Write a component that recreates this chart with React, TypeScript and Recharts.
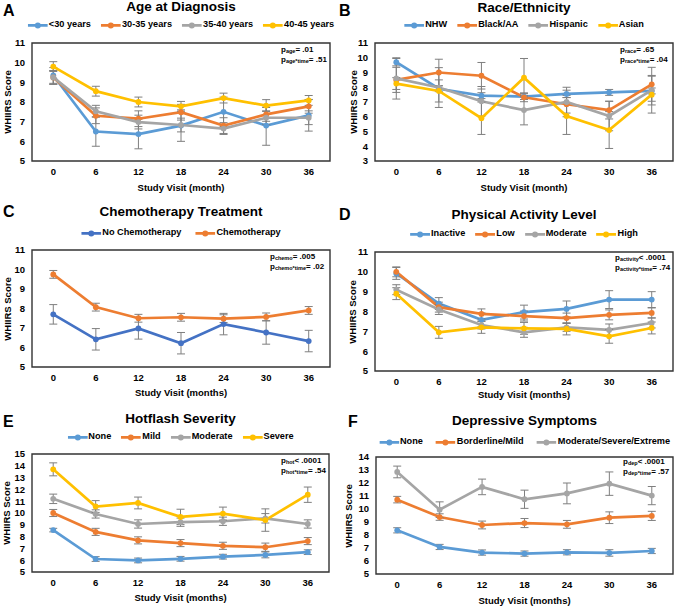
import { LineChart, Line, XAxis, YAxis, ErrorBar, ReferenceArea } from "recharts";

const FONT = "'Liberation Sans', Arial, sans-serif";

const BLUE = "#5B9BD5";
const DARK_BLUE = "#4472C4";
const ORANGE = "#ED7D31";
const GRAY = "#A5A5A5";
const YELLOW = "#FFC000";

const months = [0, 6, 12, 18, 24, 30, 36];

// A - age at diagnosis
const ageLt30 = [9.35, 6.5, 6.37, 6.8, 7.5, 6.8, 7.32];
const ageLt30Err = [0.4, 0.75, 0.75, 0.8, 0.75, 1.0, 0.8];
const age30to35 = [9.25, 7.3, 7.15, 7.48, 6.8, 7.37, 7.78];
const age30to35Err = [0.35, 0.4, 0.4, 0.4, 0.4, 0.35, 0.35];
const age35to40 = [9.25, 7.53, 6.98, 6.83, 6.65, 7.2, 7.2];
const age35to40Err = [0.35, 0.3, 0.35, 0.35, 0.3, 0.35, 0.35];
const age40to45 = [9.8, 8.55, 8.0, 7.78, 8.2, 7.82, 8.08];
const age40to45Err = [0.25, 0.25, 0.25, 0.25, 0.25, 0.3, 0.25];

// B - race/ethnicity
const raceNhw = [9.7, 7.9, 7.43, 7.37, 7.55, 7.65, 7.75];
const raceNhwErr = [0.25, 0.2, 0.2, 0.2, 0.25, 0.2, 0.2];
const raceBlack = [8.5, 9.0, 8.78, 7.32, 6.85, 6.45, 8.2];
const raceBlackErr = [0.85, 0.9, 0.9, 0.3, 0.6, 0.6, 1.15];
const raceHispanic = [8.6, 7.98, 7.05, 6.45, 7.0, 6.05, 7.8];
const raceHispanicErr = [1.4, 1.35, 1.0, 1.0, 1.0, 1.0, 1.0];
const raceAsian = [8.25, 7.75, 5.9, 8.65, 6.05, 5.1, 7.5];
const raceAsianErr = [0.4, 0.75, 1.1, 1.3, 1.25, 1.25, 1.25];

// C - chemotherapy
const noChemo = [7.7, 6.42, 6.98, 6.22, 7.2, 6.77, 6.33];
const noChemoErr = [0.5, 0.55, 0.55, 0.55, 0.55, 0.6, 0.55];
const chemo = [9.75, 8.07, 7.5, 7.55, 7.48, 7.57, 7.9];
const chemoErr = [0.2, 0.2, 0.2, 0.2, 0.2, 0.2, 0.2];

// D - physical activity
const actInactive = [9.92, 8.4, 7.58, 7.97, 8.13, 8.6, 8.6];
const actInactiveErr = [0.3, 0.3, 0.35, 0.35, 0.4, 0.45, 0.4];
const actLow = [10.0, 8.22, 7.88, 7.77, 7.67, 7.83, 7.93];
const actLowErr = [0.25, 0.25, 0.25, 0.25, 0.25, 0.25, 0.25];
const actModerate = [9.1, 8.1, 7.32, 6.95, 7.2, 7.07, 7.42];
const actModerateErr = [0.25, 0.25, 0.2, 0.25, 0.2, 0.3, 0.25];
const actHigh = [8.9, 6.95, 7.2, 7.15, 7.12, 6.75, 7.17];
const actHighErr = [0.3, 0.3, 0.3, 0.3, 0.3, 0.35, 0.3];

// E - hotflash severity
const hotNone = [8.55, 6.1, 5.98, 6.12, 6.3, 6.45, 6.68];
const hotNoneErr = [0.15, 0.2, 0.2, 0.2, 0.2, 0.25, 0.2];
const hotMild = [10.0, 8.4, 7.68, 7.45, 7.22, 7.1, 7.62];
const hotMildErr = [0.3, 0.3, 0.3, 0.3, 0.3, 0.35, 0.3];
const hotModerate = [11.2, 9.92, 9.07, 9.22, 9.3, 9.55, 9.07];
const hotModerateErr = [0.4, 0.35, 0.35, 0.35, 0.35, 0.4, 0.35];
const hotSevere = [13.7, 10.55, 10.85, 9.67, 9.95, 9.4, 11.55];
const hotSevereErr = [0.55, 0.5, 0.5, 0.65, 0.55, 0.95, 0.65];

// F - depressive symptoms
const depNone = [8.36, 7.08, 6.65, 6.57, 6.67, 6.62, 6.77];
const depNoneErr = [0.2, 0.2, 0.2, 0.2, 0.2, 0.25, 0.2];
const depMild = [10.72, 9.38, 8.77, 8.92, 8.82, 9.33, 9.47];
const depMildErr = [0.25, 0.25, 0.3, 0.35, 0.3, 0.45, 0.35];
const depSevere = [12.85, 9.95, 11.7, 10.75, 11.2, 11.95, 11.03];
const depSevereErr = [0.45, 0.6, 0.6, 0.7, 0.8, 0.9, 0.7];

type Series = { name: string; color: string; values: number[]; errors: number[] };

type PanelCfg = {
  letter: string;
  letterPos: [number, number];
  title: string;
  titleY: number;
  legendY: number;
  legendGap: number;
  box: [number, number, number, number];
  yDomain: [number, number];
  xLabel: string;
  xLabelY: number;
  yLabelX: number;
  pPos: [number, number];
  pLines: [string, string][];
  series: Series[];
};

const range = (a: number, b: number) => {
  const out: number[] = [];
  for (let v = a; v <= b; v++) out.push(v);
  return out;
};

const panels: PanelCfg[] = [
  {
    letter: "A",
    letterPos: [3, 11],
    title: "Age at Diagnosis",
    titleY: 7,
    legendY: 25,
    legendGap: 10,
    box: [32, 330, 43, 161],
    yDomain: [5, 11],
    xLabel: "Study Visit (month)",
    xLabelY: 188,
    yLabelX: 8,
    pPos: [281, 50],
    pLines: [["age", "= .01"], ["age*time", "= .51"]],
    series: [
      { name: "<30 years", color: BLUE, values: ageLt30, errors: ageLt30Err },
      { name: "30-35 years", color: ORANGE, values: age30to35, errors: age30to35Err },
      { name: "35-40 years", color: GRAY, values: age35to40, errors: age35to40Err },
      { name: "40-45 years", color: YELLOW, values: age40to45, errors: age40to45Err },
    ],
  },
  {
    letter: "B",
    letterPos: [339, 11],
    title: "Race/Ethnicity",
    titleY: 8,
    legendY: 25,
    legendGap: 10,
    box: [375, 673, 43, 161],
    yDomain: [3, 11],
    xLabel: "Study Visit (month)",
    xLabelY: 188,
    yLabelX: 354,
    pPos: [620, 50],
    pLines: [["race", "= .65"], ["race*time", "= .04"]],
    series: [
      { name: "NHW", color: BLUE, values: raceNhw, errors: raceNhwErr },
      { name: "Black/AA", color: ORANGE, values: raceBlack, errors: raceBlackErr },
      { name: "Hispanic", color: GRAY, values: raceHispanic, errors: raceHispanicErr },
      { name: "Asian", color: YELLOW, values: raceAsian, errors: raceAsianErr },
    ],
  },
  {
    letter: "C",
    letterPos: [3, 212],
    title: "Chemotherapy Treatment",
    titleY: 212,
    legendY: 233,
    legendGap: 14,
    box: [32, 330, 250, 367],
    yDomain: [5, 11],
    xLabel: "Study Visit (months)",
    xLabelY: 393,
    yLabelX: 8,
    pPos: [270, 257],
    pLines: [["chemo", "= .005"], ["chemo*time", "= .02"]],
    series: [
      { name: "No Chemotherapy", color: DARK_BLUE, values: noChemo, errors: noChemoErr },
      { name: "Chemotherapy", color: ORANGE, values: chemo, errors: chemoErr },
    ],
  },
  {
    letter: "D",
    letterPos: [339, 215],
    title: "Physical Activity Level",
    titleY: 215,
    legendY: 234,
    legendGap: 10,
    box: [375, 673, 252, 371],
    yDomain: [5, 11],
    xLabel: "Study Visit (months)",
    xLabelY: 395,
    yLabelX: 353,
    pPos: [615, 258],
    pLines: [["activity", "< .0001"], ["activity*time", "= .74"]],
    series: [
      { name: "Inactive", color: BLUE, values: actInactive, errors: actInactiveErr },
      { name: "Low", color: ORANGE, values: actLow, errors: actLowErr },
      { name: "Moderate", color: GRAY, values: actModerate, errors: actModerateErr },
      { name: "High", color: YELLOW, values: actHigh, errors: actHighErr },
    ],
  },
  {
    letter: "E",
    letterPos: [3, 422],
    title: "Hotflash Severity",
    titleY: 419,
    legendY: 437,
    legendGap: 10,
    box: [32, 329, 454, 572],
    yDomain: [5, 15],
    xLabel: "Study Visit (months)",
    xLabelY: 598,
    yLabelX: 7,
    pPos: [281, 461],
    pLines: [["hot", "< .0001"], ["hot*time", "= .54"]],
    series: [
      { name: "None", color: BLUE, values: hotNone, errors: hotNoneErr },
      { name: "Mild", color: ORANGE, values: hotMild, errors: hotMildErr },
      { name: "Moderate", color: GRAY, values: hotModerate, errors: hotModerateErr },
      { name: "Severe", color: YELLOW, values: hotSevere, errors: hotSevereErr },
    ],
  },
  {
    letter: "F",
    letterPos: [348, 422],
    title: "Depressive Symptoms",
    titleY: 421,
    legendY: 442,
    legendGap: 13,
    box: [376, 673, 457, 574],
    yDomain: [5, 14],
    xLabel: "Study Visit (months)",
    xLabelY: 601,
    yLabelX: 349,
    pPos: [623, 462],
    pLines: [["dep", "< .0001"], ["dep*time", "= .57"]],
    series: [
      { name: "None", color: BLUE, values: depNone, errors: depNoneErr },
      { name: "Borderline/Mild", color: ORANGE, values: depMild, errors: depMildErr },
      { name: "Moderate/Severe/Extreme", color: GRAY, values: depSevere, errors: depSevereErr },
    ],
  },
];

const buildRows = (series: Series[]) =>
  months.map((m, i) => {
    const row: Record<string, number> = { month: m };
    series.forEach((s, k) => {
      row[`v${k}`] = s.values[i];
      row[`e${k}`] = s.errors[i];
    });
    return row;
  });

const tickStyle = { fontSize: 9.5, fontWeight: 700, fill: "#000", fontFamily: FONT };

const LegendMark = ({ color }: { color: string }) => (
  <svg width={20} height={8} style={{ display: "block" }}>
    <line x1={0} y1={4} x2={20} y2={4} stroke={color} strokeWidth={2.7} />
    <circle cx={10} cy={4} r={3} fill={color} />
  </svg>
);

const Panel = ({ cfg }: { cfg: PanelCfg }) => {
  const [x0, x1, y0, y1] = cfg.box;
  const w = x1 - x0;
  const h = y1 - y0;
  const cx = (x0 + x1) / 2;
  const data = buildRows(cfg.series);
  const yTicks = range(cfg.yDomain[0], cfg.yDomain[1]);

  return (
    <>
      <div
        style={{
          position: "absolute",
          left: cfg.letterPos[0],
          top: cfg.letterPos[1],
          transform: "translateY(-50%)",
          fontSize: 16,
          fontWeight: 700,
          lineHeight: 1,
        }}
      >
        {cfg.letter}
      </div>
      <div
        style={{
          position: "absolute",
          left: cx,
          top: cfg.titleY,
          transform: "translate(-50%, -50%)",
          fontSize: 13.5,
          fontWeight: 700,
          whiteSpace: "nowrap",
          lineHeight: 1,
        }}
      >
        {cfg.title}
      </div>
      <div
        style={{
          position: "absolute",
          left: cx,
          top: cfg.legendY,
          transform: "translate(-50%, -50%)",
          display: "flex",
          alignItems: "center",
          gap: cfg.legendGap,
          whiteSpace: "nowrap",
        }}
      >
        {cfg.series.map((s) => (
          <div key={s.name} style={{ display: "flex", alignItems: "center", gap: 1 }}>
            <LegendMark color={s.color} />
            <span style={{ fontSize: 9.2, fontWeight: 700, lineHeight: 1 }}>{s.name}</span>
          </div>
        ))}
      </div>

      <div style={{ position: "absolute", left: x0 - 30, top: y0 - 5 }}>
        <LineChart
          width={w + 35}
          height={h + 25}
          data={data}
          margin={{ top: 5, right: 5, left: 0, bottom: 0 }}
        >
          <XAxis
            dataKey="month"
            type="number"
            domain={[-3, 39]}
            ticks={months}
            interval={0}
            axisLine={false}
            tickLine={false}
            tickSize={6}
            tickMargin={1}
            height={20}
            tick={tickStyle}
          />
          <YAxis
            type="number"
            domain={cfg.yDomain}
            ticks={yTicks}
            interval={0}
            width={30}
            axisLine={false}
            tickLine={false}
            tickSize={6}
            tickMargin={1}
            tick={tickStyle}
          />
          <ReferenceArea
            x1={-3}
            x2={39}
            y1={cfg.yDomain[0]}
            y2={cfg.yDomain[1]}
            fill="none"
            fillOpacity={0}
            stroke="#333"
            strokeWidth={1.4}
            ifOverflow="visible"
          />
          {cfg.series.map((s, k) => (
            <Line
              key={s.name}
              dataKey={`v${k}`}
              stroke={s.color}
              strokeWidth={2.7}
              dot={{ r: 2.9, fill: s.color, stroke: s.color, strokeWidth: 0 }}
              activeDot={false}
              isAnimationActive={false}
            >
              <ErrorBar
                dataKey={`e${k}`}
                direction="y"
                width={4}
                stroke="#7f7f7f"
                strokeWidth={1}
                isAnimationActive={false}
              />
            </Line>
          ))}
        </LineChart>
      </div>

      <div
        style={{
          position: "absolute",
          left: cx,
          top: cfg.xLabelY,
          transform: "translate(-50%, -50%)",
          fontSize: 9.5,
          fontWeight: 700,
          whiteSpace: "nowrap",
          lineHeight: 1,
        }}
      >
        {cfg.xLabel}
      </div>
      <div
        style={{
          position: "absolute",
          left: cfg.yLabelX,
          top: (y0 + y1) / 2,
          transform: "translate(-50%, -50%) rotate(-90deg)",
          fontSize: 9.5,
          fontWeight: 700,
          whiteSpace: "nowrap",
          lineHeight: 1,
        }}
      >
        WHIIRS Score
      </div>
      {cfg.pLines.map(([sub, rest], i) => (
        <div
          key={sub}
          style={{
            position: "absolute",
            left: cfg.pPos[0],
            top: cfg.pPos[1] + i * 10,
            transform: "translateY(-50%)",
            fontSize: 8,
            fontWeight: 700,
            whiteSpace: "nowrap",
            lineHeight: 1,
          }}
        >
          p<span style={{ fontSize: 5.5, verticalAlign: "-1.5px" }}>{sub}</span>
          {rest}
        </div>
      ))}
    </>
  );
};

export default function App() {
  return (
    <div
      style={{
        position: "absolute",
        left: 0,
        top: 0,
        width: 676,
        height: 607,
        background: "#fff",
        fontFamily: FONT,
        color: "#000",
        overflow: "hidden",
      }}
    >
      {panels.map((p) => (
        <Panel key={p.letter} cfg={p} />
      ))}
    </div>
  );
}
